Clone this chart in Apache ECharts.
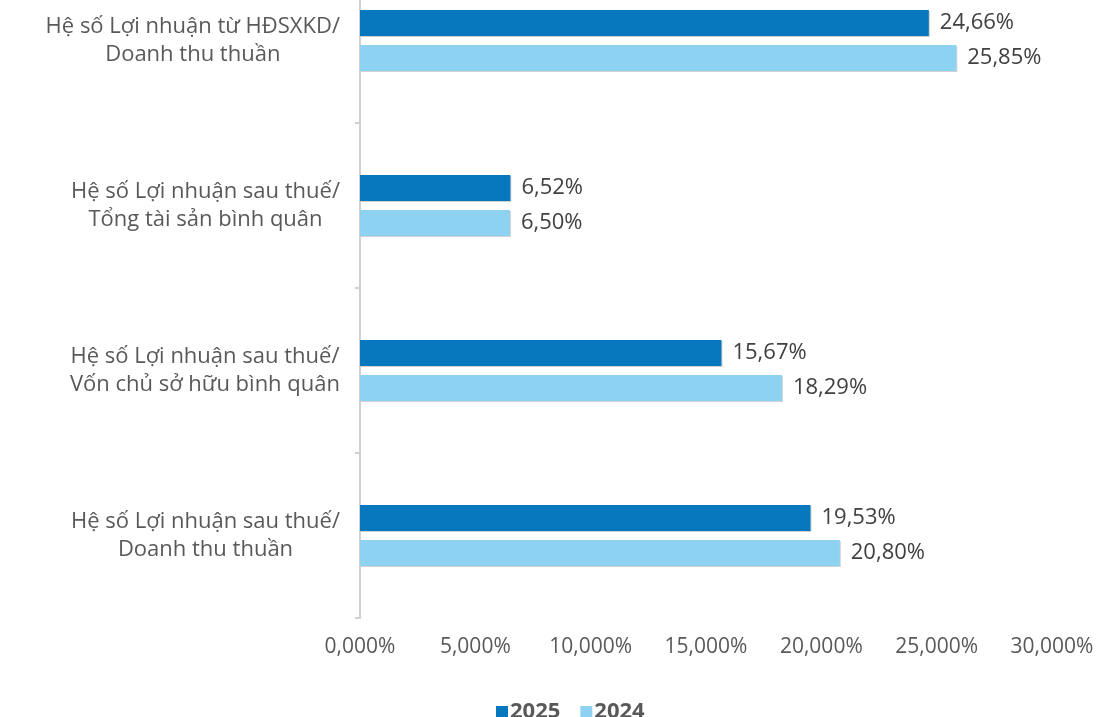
<!DOCTYPE html>
<html>
<head>
<meta charset="utf-8">
<script src="https://cdn.jsdelivr.net/npm/echarts@6/dist/echarts.min.js"></script>
<style>
  html, body { margin: 0; padding: 0; background: #ffffff; overflow: hidden; }
  /* the plot extends a little above the visible page */
  #chart { width: 1100px; height: 759px; margin-top: -42px; }
</style>
</head>
<body>
<div id="chart"></div>
<script>
// Profitability ratios, listed top to bottom
const categories = [
  ['Hệ số Lợi nhuận từ HĐSXKD/', 'Doanh thu thuần'],
  ['Hệ số Lợi nhuận sau thuế/', 'Tổng tài sản bình quân'],
  ['Hệ số Lợi nhuận sau thuế/', 'Vốn chủ sở hữu bình quân'],
  ['Hệ số Lợi nhuận sau thuế/', 'Doanh thu thuần']
];
const seriesNames = ['2025', '2024'];
const values2025 = [24.66, 6.52, 15.67, 19.53];
const values2024 = [25.85, 6.50, 18.29, 20.80];
const axisMin = 0;
const axisMax = 30;
const axisStep = 5;

const FONT = '"Open Sans", sans-serif';
const categoryKeys = categories.map(function (c) { return c.join('\n'); });

const fmtComma = function (v, d) { return v.toFixed(d).replace('.', ',') + '%'; };

const chart = echarts.init(document.getElementById('chart'), null, { renderer: 'canvas' });

const barStyle = function (color) {
  return {
    color: color,
    shadowColor: 'rgba(0,0,0,0.18)',
    shadowOffsetX: 1,
    shadowOffsetY: 1,
    shadowBlur: 0
  };
};

const barLabel = {
  show: true,
  position: 'right',
  distance: 11,
  fontFamily: FONT,
  fontSize: 22,
  color: '#404040',
  formatter: function (p) { return fmtComma(p.value, 2); }
};

chart.setOption({
  animation: false,
  backgroundColor: '#ffffff',
  grid: { left: 360, right: 48, top: 0, bottom: 99, containLabel: false },
  legend: {
    data: seriesNames,
    bottom: -11,
    left: 491,
    itemWidth: 12,
    itemHeight: 12,
    itemGap: 20,
    icon: 'rect',
    textStyle: { fontFamily: FONT, fontSize: 22, fontWeight: 'bold', color: '#595959', padding: [0, 0, 0, -3] }
  },
  xAxis: {
    type: 'value',
    min: axisMin,
    max: axisMax,
    interval: axisStep,
    axisLine: { show: false },
    axisTick: { show: false },
    splitLine: { show: false },
    axisLabel: {
      margin: 19,
      fontFamily: FONT,
      fontSize: 21,
      color: '#595959',
      formatter: function (v) { return fmtComma(v, 3); }
    }
  },
  yAxis: {
    type: 'category',
    inverse: true,
    data: categoryKeys,
    axisLine: { show: true, lineStyle: { color: '#d0d0d0', width: 2 } },
    axisTick: { show: true, length: 5, lineStyle: { color: '#d0d0d0', width: 2 } },
    axisLabel: {
      margin: 20,
      align: 'right',
      fontFamily: FONT,
      fontSize: 22,
      color: '#595959',
      lineHeight: 28,
      formatter: function (v) {
        return v.split('\n').map(function (line) { return '{c|' + line + '}'; }).join('\n');
      },
      rich: {
        c: { align: 'center', fontFamily: FONT, fontSize: 22, color: '#595959', lineHeight: 28 }
      }
    }
  },
  series: [
    {
      name: seriesNames[0],
      type: 'bar',
      data: values2025,
      barWidth: 26,
      barGap: '35%',
      itemStyle: barStyle('#0878be'),
      label: barLabel
    },
    {
      name: seriesNames[1],
      type: 'bar',
      data: values2024,
      barWidth: 26,
      barGap: '35%',
      itemStyle: barStyle('#8ed2f1'),
      label: barLabel
    }
  ]
});
</script>
</body>
</html>
